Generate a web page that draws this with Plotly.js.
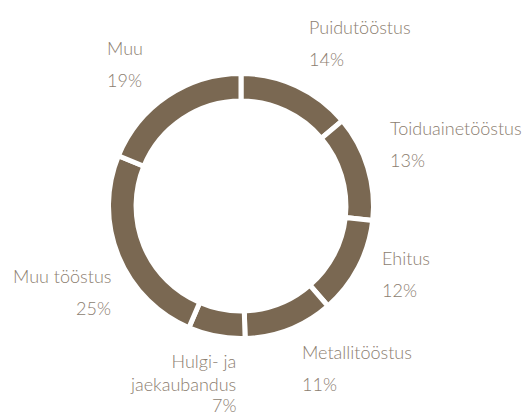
<!DOCTYPE html>
<html>
<head>
<meta charset="utf-8">
<script src="https://cdn.plot.ly/plotly-3.0.1.min.js"></script>
<style>html,body{margin:0;padding:0;background:#fff;}#chart{width:527px;height:412px;}</style>
</head>
<body>
<div id="chart"></div>
<script>
// Data
var categories = ["Puidutööstus", "Toiduainetööstus", "Ehitus", "Metallitööstus", "Hulgi- ja<br>jaekaubandus", "Muu tööstus", "Muu"];
var shares = [14, 13, 12, 11, 7, 25, 19];

// Label placement (pixels): anchor x, name centre y, percent centre y, side
var labelPos = [
  {x: 307, yn: 27, yp: 59, side: "left"},
  {x: 388, yn: 128, yp: 160, side: "left"},
  {x: 380, yn: 258, yp: 290, side: "left"},
  {x: 300, yn: 352, yp: 384, side: "left"},
  {x: 238, yn: 372, yp: 405, side: "right"},
  {x: 113, yn: 276, yp: 308, side: "right"},
  {x: 105, yn: 48, yp: 80, side: "left"}
];

var W = 527, H = 412;
var cx = 241, cy = 206, R = 132.5;
var textColor = "#8b7d6f";
var font = {family: "Lato, 'Open Sans', sans-serif", size: 18, color: textColor, weight: 300};

var annotations = [];
categories.forEach(function (c, i) {
  var p = labelPos[i];
  annotations.push({
    xref: "paper", yref: "paper", x: p.x / W, y: 1 - p.yn / H,
    xanchor: p.side, yanchor: "middle", align: p.side, showarrow: false,
    text: c, font: font
  });
  annotations.push({
    xref: "paper", yref: "paper", x: p.x / W, y: 1 - p.yp / H,
    xanchor: p.side, yanchor: "middle", align: p.side, showarrow: false,
    text: shares[i] + "%", font: font
  });
});

var trace = {
  type: "pie",
  labels: categories,
  values: shares,
  sort: false,
  direction: "clockwise",
  rotation: 0,
  hole: 0.792,
  textinfo: "none",
  hoverinfo: "label+percent",
  marker: {colors: categories.map(function () { return "#7a6852"; }), line: {color: "#ffffff", width: 5}},
  domain: {x: [(cx - R) / W, (cx + R) / W], y: [(H - cy - R) / H, (H - cy + R) / H]},
  showlegend: false
};

Plotly.newPlot("chart", [trace], {
  width: W, height: H,
  margin: {l: 0, r: 0, t: 0, b: 0},
  paper_bgcolor: "#ffffff",
  plot_bgcolor: "#ffffff",
  showlegend: false,
  annotations: annotations
}, {displayModeBar: false, staticPlot: true});
</script>
</body>
</html>
